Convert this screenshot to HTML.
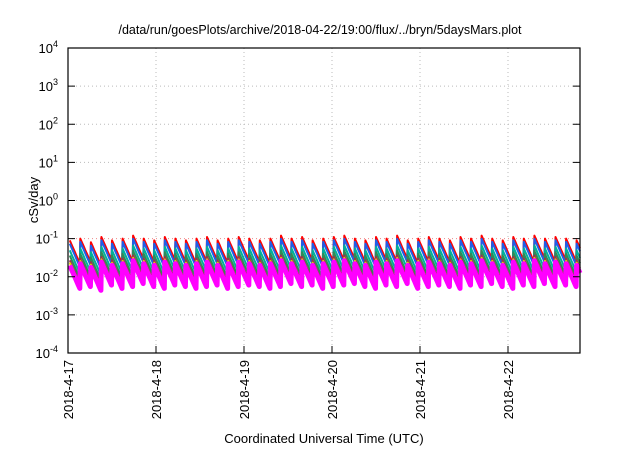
<!DOCTYPE html>
<html><head><meta charset="utf-8"><style>
body{margin:0;background:#fff;}
svg text{font-family:"Liberation Sans",sans-serif;fill:#000;}
</style></head><body>
<svg id="chart" width="640" height="448" xmlns="http://www.w3.org/2000/svg">
<text x="320" y="34" text-anchor="middle" font-size="12.5">/data/run/goesPlots/archive/2018-04-22/19:00/flux/../bryn/5daysMars.plot</text>
<g id="grid"></g>
<g id="series"></g>
<rect x="68" y="48" width="512" height="305" fill="none" stroke="#000" stroke-width="1.2"/>
<g id="axes"></g>
<text transform="translate(38,200) rotate(-90)" text-anchor="middle" font-size="13">cSv/day</text>
<text x="324" y="443" text-anchor="middle" font-size="13">Coordinated Universal Time (UTC)</text>
</svg>
<script>
const xTickLabels=["2018-4-17","2018-4-18","2018-4-19","2018-4-20","2018-4-21","2018-4-22"];
const yTickExps=[4,3,2,1,0,-1,-2,-3,-4];
const peaks=[0.09,0.1,0.08,0.11,0.09,0.1,0.12,0.1,0.09,0.11,0.1,0.09,0.1,0.11,0.09,0.1,0.11,0.1,0.09,0.1,0.12,0.1,0.11,0.09,0.1,0.11,0.12,0.1,0.09,0.11,0.1,0.12,0.09,0.1,0.11,0.1,0.09,0.11,0.1,0.12,0.1,0.09,0.11,0.1,0.12,0.1,0.11,0.1,0.09];
const seriesNames=["red","blue","teal","green","maroon","yellow","magenta"];
const seriesScale=[1,0.82,0.55,0.4,0.3,0.26,0.22];
const seriesColor=["#ff0000","#1f5fe8","#00b09a","#2e8b57","#a0304a","#e6d000","#ff00ff"];
const seriesWidth=[2,2,2,2,2,2,5];
const decayRatio=0.25, startDay=0.02, periodDay=0.12;
const X0=68,X1=580,Y0=48,Y1=353,DAYPX=88;
const xs=d=>X0+d*DAYPX;
const ys=v=>Y1-(Math.log10(v)+4)/8*(Y1-Y0);
const NS="http://www.w3.org/2000/svg";
const grid=document.getElementById('grid'),axes=document.getElementById('axes'),ser=document.getElementById('series');
function mk(t,a,p){const e=document.createElementNS(NS,t);for(const k in a)e.setAttribute(k,a[k]);p.appendChild(e);return e;}
yTickExps.forEach(e=>{const y=ys(Math.pow(10,e));
 if(e<4&&e>-4){const l=mk('line',{x1:X0,x2:X1,y1:y,y2:y,stroke:e==-1?'#e88':'#bbb','stroke-dasharray':'1,3'},grid);
 
 }
 const t1=mk('line',{x1:X0,x2:X0+7,y1:y,y2:y,stroke:'#000'},axes);
 
 
 const t2=mk('line',{x1:X1-7,x2:X1,y1:y,y2:y,stroke:'#000'},axes);
 
 
 const tx=mk('text',{x:X0-10,y:y+5,'text-anchor':'end','font-size':'13'},axes);
 
 
 tx.innerHTML='10<tspan dy="-6" font-size="9">'+e+'</tspan>';
});
xTickLabels.forEach((s,i)=>{const x=xs(i);
 if(i>0){const l=mk('line',{x1:x,x2:x,y1:Y0,y2:Y1,stroke:'#bbb','stroke-dasharray':'1,3'},grid);
 
 }
 const t=mk('line',{x1:x,x2:x,y1:Y1-7,y2:Y1,stroke:'#000'},axes);
 
 
 const tx=mk('text',{transform:'translate('+(x+5)+',360) rotate(-90)','text-anchor':'end','font-size':'13'},axes);
 
 
 tx.textContent=s;
});
seriesNames.forEach((n,si)=>{
 let d='';
 peaks.forEach((p,i)=>{const t0=startDay+i*periodDay;const v0=p*seriesScale[si];
  for(let k=0;k<=6;k++){const f=k/6;const t=t0+f*periodDay*0.95;if(xs(t)>X1)break;
   d+=(d?'L':'M')+xs(t).toFixed(1)+','+ys(v0*Math.pow(decayRatio,f)).toFixed(1);}
 });
 const pth=mk('path',{d:d,fill:'none',stroke:seriesColor[si],'stroke-width':seriesWidth[si],'stroke-linejoin':'round'},ser);
 
 
});
</script>
</body></html>
